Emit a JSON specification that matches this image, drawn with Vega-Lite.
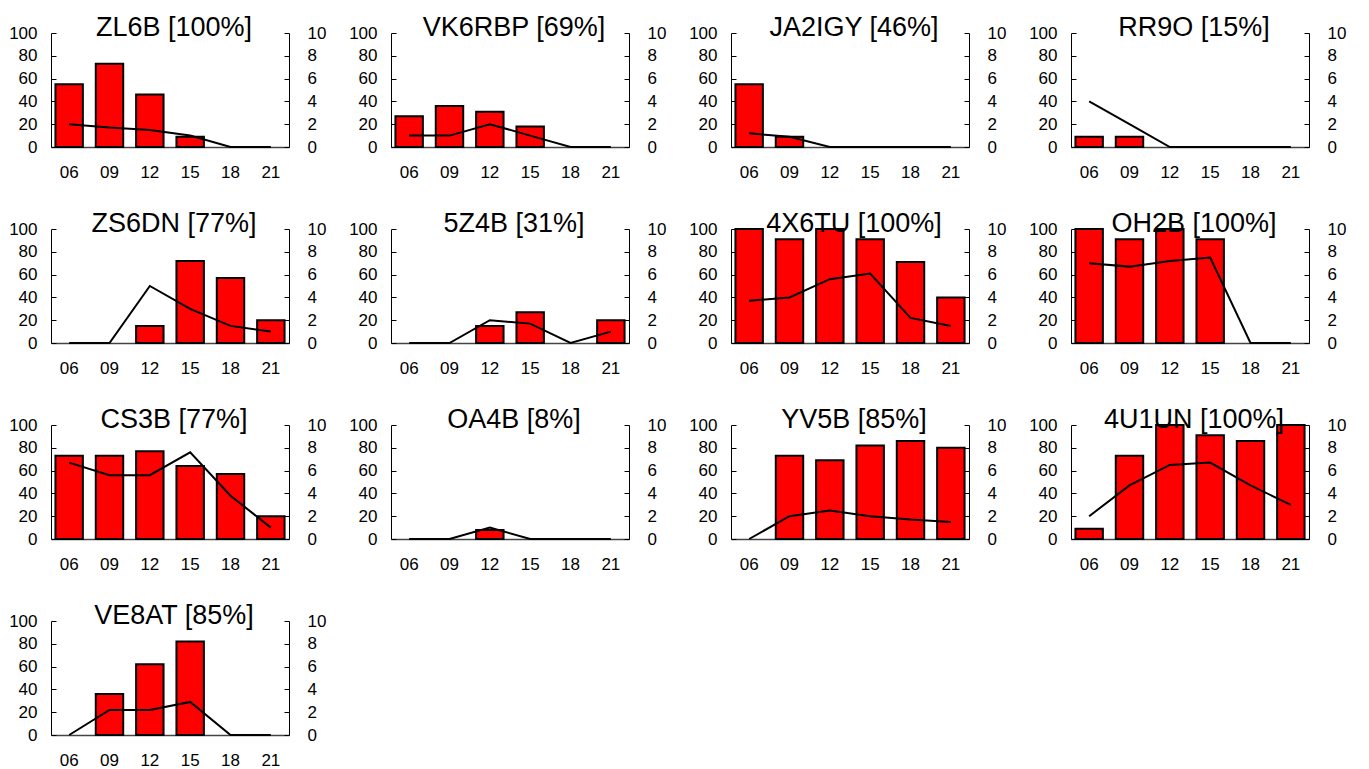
{
  "$schema": "https://vega.github.io/schema/vega-lite/v6.json",
  "padding": {"left": 8, "top": 13, "right": 5, "bottom": 0},
  "background": "white",
  "data": {"values": [
    {"station": "ZL6B [100%]", "hour": "06", "pct": 55, "val": 2.0},
    {"station": "ZL6B [100%]", "hour": "09", "pct": 73, "val": 1.7},
    {"station": "ZL6B [100%]", "hour": "12", "pct": 46, "val": 1.5},
    {"station": "ZL6B [100%]", "hour": "15", "pct": 9, "val": 1.0},
    {"station": "ZL6B [100%]", "hour": "18", "pct": 0, "val": 0},
    {"station": "ZL6B [100%]", "hour": "21", "pct": 0, "val": 0},
    {"station": "VK6RBP [69%]", "hour": "06", "pct": 27, "val": 1.0},
    {"station": "VK6RBP [69%]", "hour": "09", "pct": 36, "val": 1.0},
    {"station": "VK6RBP [69%]", "hour": "12", "pct": 31, "val": 2.0},
    {"station": "VK6RBP [69%]", "hour": "15", "pct": 18, "val": 1.0},
    {"station": "VK6RBP [69%]", "hour": "18", "pct": 0, "val": 0},
    {"station": "VK6RBP [69%]", "hour": "21", "pct": 0, "val": 0},
    {"station": "JA2IGY [46%]", "hour": "06", "pct": 55, "val": 1.2},
    {"station": "JA2IGY [46%]", "hour": "09", "pct": 9, "val": 0.9},
    {"station": "JA2IGY [46%]", "hour": "12", "pct": 0, "val": 0},
    {"station": "JA2IGY [46%]", "hour": "15", "pct": 0, "val": 0},
    {"station": "JA2IGY [46%]", "hour": "18", "pct": 0, "val": 0},
    {"station": "JA2IGY [46%]", "hour": "21", "pct": 0, "val": 0},
    {"station": "RR9O [15%]", "hour": "06", "pct": 9, "val": 4.0},
    {"station": "RR9O [15%]", "hour": "09", "pct": 9, "val": 2.0},
    {"station": "RR9O [15%]", "hour": "12", "pct": 0, "val": 0},
    {"station": "RR9O [15%]", "hour": "15", "pct": 0, "val": 0},
    {"station": "RR9O [15%]", "hour": "18", "pct": 0, "val": 0},
    {"station": "RR9O [15%]", "hour": "21", "pct": 0, "val": 0},
    {"station": "ZS6DN [77%]", "hour": "06", "pct": 0, "val": 0},
    {"station": "ZS6DN [77%]", "hour": "09", "pct": 0, "val": 0},
    {"station": "ZS6DN [77%]", "hour": "12", "pct": 15, "val": 5.0},
    {"station": "ZS6DN [77%]", "hour": "15", "pct": 72, "val": 3.0},
    {"station": "ZS6DN [77%]", "hour": "18", "pct": 57, "val": 1.5},
    {"station": "ZS6DN [77%]", "hour": "21", "pct": 20, "val": 1.0},
    {"station": "5Z4B [31%]", "hour": "06", "pct": 0, "val": 0},
    {"station": "5Z4B [31%]", "hour": "09", "pct": 0, "val": 0},
    {"station": "5Z4B [31%]", "hour": "12", "pct": 15, "val": 2.0},
    {"station": "5Z4B [31%]", "hour": "15", "pct": 27, "val": 1.7},
    {"station": "5Z4B [31%]", "hour": "18", "pct": 0, "val": 0},
    {"station": "5Z4B [31%]", "hour": "21", "pct": 20, "val": 1.0},
    {"station": "4X6TU [100%]", "hour": "06", "pct": 100, "val": 3.7},
    {"station": "4X6TU [100%]", "hour": "09", "pct": 91, "val": 4.0},
    {"station": "4X6TU [100%]", "hour": "12", "pct": 100, "val": 5.6},
    {"station": "4X6TU [100%]", "hour": "15", "pct": 91, "val": 6.1},
    {"station": "4X6TU [100%]", "hour": "18", "pct": 71, "val": 2.2},
    {"station": "4X6TU [100%]", "hour": "21", "pct": 40, "val": 1.5},
    {"station": "OH2B [100%]", "hour": "06", "pct": 100, "val": 7.0},
    {"station": "OH2B [100%]", "hour": "09", "pct": 91, "val": 6.7},
    {"station": "OH2B [100%]", "hour": "12", "pct": 100, "val": 7.2},
    {"station": "OH2B [100%]", "hour": "15", "pct": 91, "val": 7.5},
    {"station": "OH2B [100%]", "hour": "18", "pct": 0, "val": 0},
    {"station": "OH2B [100%]", "hour": "21", "pct": 0, "val": 0},
    {"station": "CS3B [77%]", "hour": "06", "pct": 73, "val": 6.7},
    {"station": "CS3B [77%]", "hour": "09", "pct": 73, "val": 5.6},
    {"station": "CS3B [77%]", "hour": "12", "pct": 77, "val": 5.6},
    {"station": "CS3B [77%]", "hour": "15", "pct": 64, "val": 7.6},
    {"station": "CS3B [77%]", "hour": "18", "pct": 57, "val": 3.8},
    {"station": "CS3B [77%]", "hour": "21", "pct": 20, "val": 1.0},
    {"station": "OA4B [8%]", "hour": "06", "pct": 0, "val": 0},
    {"station": "OA4B [8%]", "hour": "09", "pct": 0, "val": 0},
    {"station": "OA4B [8%]", "hour": "12", "pct": 8, "val": 1.0},
    {"station": "OA4B [8%]", "hour": "15", "pct": 0, "val": 0},
    {"station": "OA4B [8%]", "hour": "18", "pct": 0, "val": 0},
    {"station": "OA4B [8%]", "hour": "21", "pct": 0, "val": 0},
    {"station": "YV5B [85%]", "hour": "06", "pct": 0, "val": 0},
    {"station": "YV5B [85%]", "hour": "09", "pct": 73, "val": 2.0},
    {"station": "YV5B [85%]", "hour": "12", "pct": 69, "val": 2.5},
    {"station": "YV5B [85%]", "hour": "15", "pct": 82, "val": 2.0},
    {"station": "YV5B [85%]", "hour": "18", "pct": 86, "val": 1.7},
    {"station": "YV5B [85%]", "hour": "21", "pct": 80, "val": 1.5},
    {"station": "4U1UN [100%]", "hour": "06", "pct": 9, "val": 2.0},
    {"station": "4U1UN [100%]", "hour": "09", "pct": 73, "val": 4.7},
    {"station": "4U1UN [100%]", "hour": "12", "pct": 100, "val": 6.5},
    {"station": "4U1UN [100%]", "hour": "15", "pct": 91, "val": 6.7},
    {"station": "4U1UN [100%]", "hour": "18", "pct": 86, "val": 4.7},
    {"station": "4U1UN [100%]", "hour": "21", "pct": 100, "val": 3.0},
    {"station": "VE8AT [85%]", "hour": "06", "pct": 0, "val": 0},
    {"station": "VE8AT [85%]", "hour": "09", "pct": 36, "val": 2.2},
    {"station": "VE8AT [85%]", "hour": "12", "pct": 62, "val": 2.2},
    {"station": "VE8AT [85%]", "hour": "15", "pct": 82, "val": 2.9},
    {"station": "VE8AT [85%]", "hour": "18", "pct": 0, "val": 0},
    {"station": "VE8AT [85%]", "hour": "21", "pct": 0, "val": 0}
  ]},
  "facet": {
    "field": "station",
    "type": "nominal",
    "sort": ["ZL6B [100%]", "VK6RBP [69%]", "JA2IGY [46%]", "RR9O [15%]", "ZS6DN [77%]", "5Z4B [31%]", "4X6TU [100%]", "OH2B [100%]", "CS3B [77%]", "OA4B [8%]", "YV5B [85%]", "4U1UN [100%]", "VE8AT [85%]"],
    "title": null,
    "header": {"title": null, "labelExpr": "''", "labelFontSize": 1, "labelPadding": 0}
  },
  "columns": 4,
  "spacing": {"column": 22, "row": 29},
  "resolve": {"scale": {"y": "independent"}, "axis": {"x": "independent", "y": "independent"}},
  "spec": {
    "width": 238,
    "height": 114,
    "layer": [
      {
        "transform": [{"filter": "datum.pct > 0"}],
        "mark": {"type": "bar", "fill": "#ff0000", "stroke": "black", "strokeWidth": 2},
        "encoding": {
          "x": {
            "field": "hour", "type": "ordinal",
            "scale": {"paddingInner": 0.32, "paddingOuter": 0.11},
            "axis": {"title": null, "labelAngle": 0, "ticks": false, "labelPadding": 17, "labelFontSize": 17, "domainColor": "#444", "domainWidth": 1.5}
          },
          "y": {
            "field": "pct", "type": "quantitative",
            "scale": {"domain": [0, 100], "nice": false},
            "axis": {"orient": "left", "title": null, "grid": false, "values": [0, 20, 40, 60, 80, 100], "tickSize": -5, "labelPadding": 19, "labelFontSize": 17, "domainColor": "black", "tickColor": "black"}
          }
        }
      },
      {
        "mark": {"type": "line", "color": "black", "strokeWidth": 2},
        "encoding": {
          "x": {"field": "hour", "type": "ordinal"},
          "y": {
            "field": "val", "type": "quantitative",
            "scale": {"domain": [0, 10], "nice": false},
            "axis": {"orient": "right", "title": null, "grid": false, "values": [0, 2, 4, 6, 8, 10], "tickSize": -5, "labelPadding": 23, "labelFontSize": 17, "domainColor": "black", "tickColor": "black"}
          }
        }
      },
      {
        "transform": [{"filter": "datum.hour == '12'"}],
        "mark": {"type": "text", "fontSize": 27, "font": "Liberation Sans", "color": "black", "align": "center", "baseline": "alphabetic", "dy": 3},
        "encoding": {
          "x": {"field": "hour", "type": "ordinal", "bandPosition": 1.38},
          "y": {"datum": 100, "type": "quantitative", "scale": {"domain": [0, 100], "nice": false}, "axis": null},
          "text": {"field": "station"}
        }
      }
    ],
    "resolve": {"scale": {"y": "independent"}}
  },
  "config": {
    "view": {"stroke": null},
    "font": "Liberation Sans",
    "axis": {"labelColor": "black", "labelFont": "Liberation Sans"}
  }
}
